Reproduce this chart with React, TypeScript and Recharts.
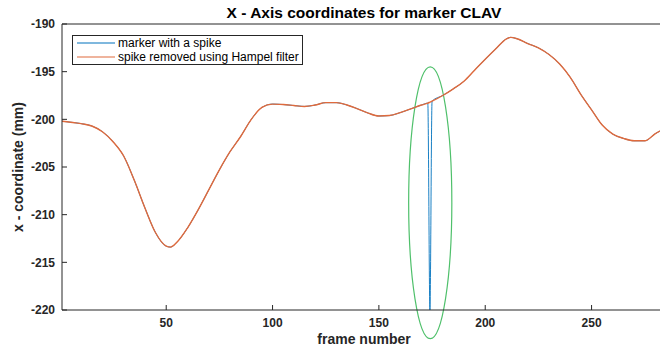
import { Legend, Line, LineChart, ReferenceArea, XAxis, YAxis } from "recharts";

// frame numbers (sampled more densely around the minimum, the spike and the peak)
const frames = [
  1, 5, 10, 15, 20, 25, 30, 35, 40, 45, 50, 52, 55, 60, 65, 70, 75, 80, 85, 90,
  95, 100, 105, 110, 115, 120, 125, 130, 135, 140, 145, 150, 155, 160, 165, 170,
  173, 174, 175, 180, 185, 190, 195, 200, 205, 210, 212, 215, 220, 225, 230,
  235, 240, 245, 250, 255, 260, 265, 270, 275, 280, 285,
];

// x coordinate after the Hampel filter (mm)
const filteredX = [
  -200.2, -200.3, -200.45, -200.7, -201.3, -202.35, -203.85, -206.4, -209.3,
  -211.9, -213.3, -213.4, -212.9, -211.4, -209.5, -207.4, -205.3, -203.4,
  -201.8, -200.0, -198.75, -198.4, -198.45, -198.55, -198.65, -198.5, -198.25,
  -198.25, -198.5, -198.9, -199.35, -199.65, -199.6, -199.3, -198.9, -198.5,
  -198.3, -198.2, -198.1, -197.5, -196.8, -196.0, -194.85, -193.7, -192.6,
  -191.55, -191.4, -191.55, -192.05, -192.5, -193.2, -194.2, -195.6, -197.4,
  -199.0, -200.6, -201.55, -202.0, -202.25, -202.25, -201.5, -200.9,
];

// the raw marker has one bad frame
const spikeFrame = 174;
const spikeValue = -220;
const rawX = filteredX.map((v, i) => (frames[i] === spikeFrame ? spikeValue : v));

const xTicks = [50, 100, 150, 200, 250];
const yTicks = [-220, -215, -210, -205, -200, -195, -190];

// hand-drawn ring around the spike (data units)
const ringFrames = [164, 184.3];
const ringValues = [-223, -194.5];

const COLORS = {
  raw: "#0072BD",
  filtered: "#E06A3C",
  ring: "#4fc06b",
  axis: "#262626",
};

const FONT = '"Liberation Sans", Arial, Helvetica, sans-serif';

const data = frames.map((f, i) => ({ frame: f, raw: rawX[i], filtered: filteredX[i] }));

const tickStyle = { fontSize: 12, fontWeight: "bold", fill: COLORS.axis, fontFamily: FONT };

function LegendBox() {
  const items = [
    { name: "marker with a spike", color: COLORS.raw },
    { name: "spike removed using Hampel filter", color: COLORS.filtered },
  ];
  return (
    <div
      style={{
        border: `1px solid ${COLORS.axis}`,
        background: "#fff",
        padding: "0 3px 0 4px",
        fontFamily: FONT,
        fontSize: 12,
        lineHeight: "14px",
        color: "#000",
        width: "fit-content",
      }}
    >
      {items.map((it) => (
        <div key={it.name} style={{ display: "flex", alignItems: "center", height: 14, whiteSpace: "nowrap" }}>
          <svg width={38} height={4} style={{ marginRight: 3, display: "block" }}>
            <line x1={0} y1={2} x2={38} y2={2} stroke={it.color} strokeWidth={1.2} />
          </svg>
          <span>{it.name}</span>
        </div>
      ))}
    </div>
  );
}

function Ring(props: any) {
  const { x, y, width, height } = props;
  return (
    <ellipse
      cx={x + width / 2}
      cy={y + height / 2}
      rx={width / 2}
      ry={height / 2}
      fill="none"
      stroke={COLORS.ring}
      strokeWidth={1.2}
    />
  );
}

export default function App() {
  return (
    <div
      style={{
        position: "absolute",
        left: 0,
        top: 0,
        width: 660,
        height: 349,
        overflow: "hidden",
        background: "#fff",
        fontFamily: FONT,
      }}
    >
      <LineChart width={667} height={349} data={data} margin={{ top: 23, right: 1, left: 0, bottom: 0 }}>
        <XAxis
          dataKey="frame"
          type="number"
          domain={[1, 285]}
          ticks={xTicks}
          allowDataOverflow
          height={39}
          tickSize={-5}
          tickMargin={13}
          tick={tickStyle}
          stroke={COLORS.axis}
        />
        <XAxis
          xAxisId="top"
          dataKey="frame"
          orientation="top"
          type="number"
          domain={[1, 285]}
          ticks={xTicks}
          allowDataOverflow
          height={1}
          tickSize={-5}
          tick={false}
          stroke={COLORS.axis}
        />
        <YAxis
          type="number"
          domain={[-220, -190]}
          ticks={yTicks}
          allowDataOverflow
          width={62}
          tickSize={-5}
          tickMargin={12}
          tick={tickStyle}
          stroke={COLORS.axis}
        />
        <Legend
          layout="vertical"
          align="center"
          verticalAlign="middle"
          content={() => <LegendBox />}
          wrapperStyle={{ left: 72, top: 35, width: "auto" }}
        />
        <Line
          type="monotone"
          dataKey="raw"
          name="marker with a spike"
          stroke={COLORS.raw}
          strokeWidth={0.9}
          dot={false}
          activeDot={false}
          isAnimationActive={false}
        />
        <Line
          type="monotone"
          dataKey="filtered"
          name="spike removed using Hampel filter"
          stroke={COLORS.filtered}
          strokeWidth={1.4}
          dot={false}
          activeDot={false}
          isAnimationActive={false}
        />
        <Line
          xAxisId="top"
          type="monotone"
          dataKey="filtered"
          stroke="none"
          dot={false}
          activeDot={false}
          legendType="none"
          isAnimationActive={false}
        />
        <ReferenceArea
          x1={ringFrames[0]}
          x2={ringFrames[1]}
          y1={ringValues[0]}
          y2={ringValues[1]}
          ifOverflow="visible"
          shape={(p: any) => <Ring {...p} />}
        />
      </LineChart>
      <div
        style={{
          position: "absolute",
          left: 364,
          top: 13,
          transform: "translate(-50%, -50%)",
          fontSize: 15.5,
          fontWeight: "bold",
          color: "#000",
          whiteSpace: "nowrap",
        }}
      >
        X - Axis coordinates for marker CLAV
      </div>
      <div
        style={{
          position: "absolute",
          left: 364,
          top: 339,
          transform: "translate(-50%, -50%)",
          fontSize: 14,
          fontWeight: "bold",
          color: COLORS.axis,
          whiteSpace: "nowrap",
        }}
      >
        frame number
      </div>
      <div
        style={{
          position: "absolute",
          left: 18,
          top: 167,
          transform: "translate(-50%, -50%) rotate(-90deg)",
          fontSize: 14,
          fontWeight: "bold",
          color: COLORS.axis,
          whiteSpace: "nowrap",
        }}
      >
        x - coordinate (mm)
      </div>
    </div>
  );
}
